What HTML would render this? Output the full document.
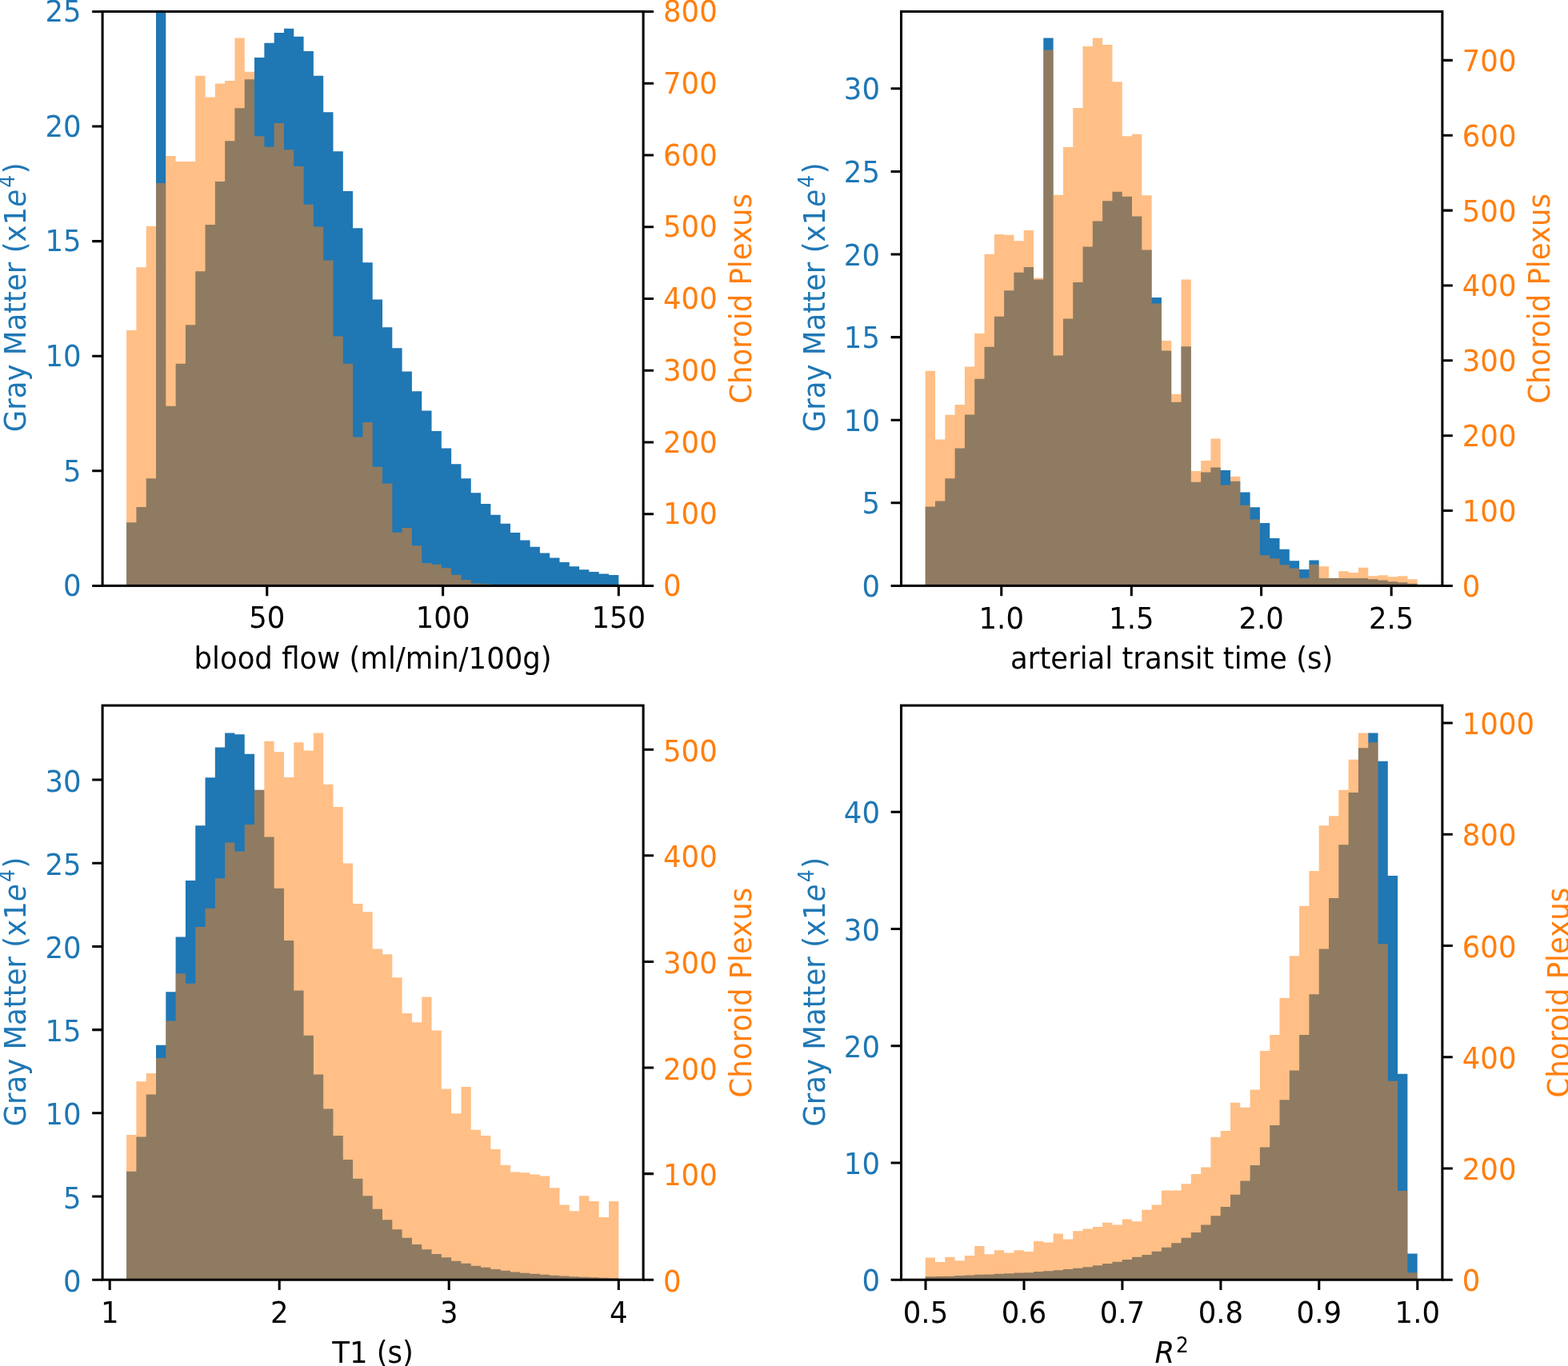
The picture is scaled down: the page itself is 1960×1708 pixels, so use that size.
<!DOCTYPE html>
<html lang="en">
<head>
<meta charset="utf-8">
<title>Histograms: Gray Matter vs Choroid Plexus</title>
<style>
html,body{margin:0;padding:0;background:#fff;}
body{width:1960px;height:1708px;overflow:hidden;}
svg{display:block;}
svg text{font-family:"DejaVu Sans","Liberation Sans",sans-serif;font-size:36.0px;fill:#000;}
svg text.b{fill:#1f77b4;}
svg text.o{fill:#ff7f0e;}
</style>
</head>
<body>
<svg width="1960" height="1708" viewBox="0 0 1960 1708">
<rect width="1960" height="1708" fill="#fff"/>
<g id="p1">
<path d="M158.10 732.40L158.10 653.25L170.40 653.25L170.40 634.00L182.71 634.00L182.71 598.25L195.01 598.25L195.01 14.40L207.32 14.40L207.32 507.75L219.62 507.75L219.62 454.75L231.92 454.75L231.92 406.25L244.23 406.25L244.23 339.25L256.53 339.25L256.53 281.00L268.84 281.00L268.84 227.00L281.14 227.00L281.14 176.25L293.44 176.25L293.44 135.25L305.75 135.25L305.75 99.25L318.05 99.25L318.05 72.00L330.36 72.00L330.36 53.75L342.66 53.75L342.66 41.00L354.96 41.00L354.96 35.75L367.27 35.75L367.27 45.75L379.57 45.75L379.57 64.00L391.88 64.00L391.88 94.75L404.18 94.75L404.18 140.25L416.48 140.25L416.48 189.25L428.79 189.25L428.79 239.00L441.09 239.00L441.09 285.25L453.40 285.25L453.40 328.25L465.70 328.25L465.70 374.50L478.00 374.50L478.00 409.25L490.31 409.25L490.31 435.25L502.61 435.25L502.61 464.50L514.92 464.50L514.92 489.25L527.22 489.25L527.22 513.50L539.52 513.50L539.52 539.00L551.83 539.00L551.83 560.50L564.13 560.50L564.13 580.25L576.44 580.25L576.44 598.25L588.74 598.25L588.74 616.25L601.04 616.25L601.04 630.00L613.35 630.00L613.35 643.75L625.65 643.75L625.65 654.75L637.96 654.75L637.96 666.00L650.26 666.00L650.26 675.50L662.56 675.50L662.56 683.75L674.87 683.75L674.87 691.50L687.17 691.50L687.17 697.50L699.48 697.50L699.48 703.00L711.78 703.00L711.78 708.25L724.08 708.25L724.08 712.25L736.39 712.25L736.39 715.00L748.69 715.00L748.69 717.50L761.00 717.50L761.00 719.00L773.30 719.00L773.30 732.40Z" fill="#1f77b4"/>
<path d="M158.10 732.40L158.10 413.00L170.40 413.00L170.40 334.25L182.71 334.25L182.71 282.75L195.01 282.75L195.01 229.00L207.32 229.00L207.32 195.00L219.62 195.00L219.62 202.00L231.92 202.00L231.92 202.00L244.23 202.00L244.23 94.75L256.53 94.75L256.53 121.50L268.84 121.50L268.84 104.50L281.14 104.50L281.14 101.00L293.44 101.00L293.44 47.50L305.75 47.50L305.75 89.75L318.05 89.75L318.05 170.25L330.36 170.25L330.36 183.75L342.66 183.75L342.66 154.00L354.96 154.00L354.96 187.25L367.27 187.25L367.27 208.00L379.57 208.00L379.57 255.75L391.88 255.75L391.88 283.50L404.18 283.50L404.18 325.50L416.48 325.50L416.48 420.50L428.79 420.50L428.79 454.75L441.09 454.75L441.09 546.50L453.40 546.50L453.40 528.00L465.70 528.00L465.70 583.75L478.00 583.75L478.00 604.50L490.31 604.50L490.31 665.75L502.61 665.75L502.61 660.00L514.92 660.00L514.92 682.25L527.22 682.25L527.22 704.00L539.52 704.00L539.52 705.75L551.83 705.75L551.83 710.25L564.13 710.25L564.13 718.75L576.44 718.75L576.44 725.00L588.74 725.00L588.74 729.50L601.04 729.50L601.04 730.25L613.35 730.25L613.35 732.40Z" fill="#ff7f0e" fill-opacity="0.5"/>
<path d="M333.75 732.40v12.9M553.60 732.40v12.9M773.30 732.40v12.9M128.10 732.40h-12.9M128.10 588.80h-12.9M128.10 445.20h-12.9M128.10 301.60h-12.9M128.10 158.00h-12.9M128.10 14.40h-12.9M804.10 732.40h12.9M804.10 642.65h12.9M804.10 552.90h12.9M804.10 463.15h12.9M804.10 373.40h12.9M804.10 283.65h12.9M804.10 193.90h12.9M804.10 104.15h12.9M804.10 14.40h12.9" stroke="#000" stroke-width="3.05" fill="none"/>
<rect x="128.10" y="14.40" width="676.00" height="718.00" fill="none" stroke="#000" stroke-width="3.05" stroke-linejoin="miter"/>
<text transform="translate(333.75 785.43) scale(0.986 1.03)" text-anchor="middle">50</text>
<text transform="translate(553.60 785.43) scale(0.986 1.03)" text-anchor="middle">100</text>
<text transform="translate(773.30 785.43) scale(0.986 1.03)" text-anchor="middle">150</text>
<text transform="translate(101.60 745.12) scale(0.986 1.03)" text-anchor="end" class="b">0</text>
<text transform="translate(101.60 601.52) scale(0.986 1.03)" text-anchor="end" class="b">5</text>
<text transform="translate(101.60 457.92) scale(0.986 1.03)" text-anchor="end" class="b">10</text>
<text transform="translate(101.60 314.32) scale(0.986 1.03)" text-anchor="end" class="b">15</text>
<text transform="translate(101.60 170.72) scale(0.986 1.03)" text-anchor="end" class="b">20</text>
<text transform="translate(101.60 27.12) scale(0.986 1.03)" text-anchor="end" class="b">25</text>
<text transform="translate(829.00 745.12) scale(0.986 1.03)" text-anchor="start" class="o">0</text>
<text transform="translate(829.00 655.37) scale(0.986 1.03)" text-anchor="start" class="o">100</text>
<text transform="translate(829.00 565.62) scale(0.986 1.03)" text-anchor="start" class="o">200</text>
<text transform="translate(829.00 475.87) scale(0.986 1.03)" text-anchor="start" class="o">300</text>
<text transform="translate(829.00 386.12) scale(0.986 1.03)" text-anchor="start" class="o">400</text>
<text transform="translate(829.00 296.37) scale(0.986 1.03)" text-anchor="start" class="o">500</text>
<text transform="translate(829.00 206.62) scale(0.986 1.03)" text-anchor="start" class="o">600</text>
<text transform="translate(829.00 116.87) scale(0.986 1.03)" text-anchor="start" class="o">700</text>
<text transform="translate(829.00 27.12) scale(0.986 1.03)" text-anchor="start" class="o">800</text>
<text transform="translate(466.10 835.80) scale(0.986 1.03)" text-anchor="middle">blood flow (ml/min/100g)</text>
<text transform="translate(32.00 371.80) rotate(-90) scale(0.986 1.03)" text-anchor="middle" class="b">Gray Matter (x1<tspan font-style="italic">e</tspan><tspan dy="-14.04" font-size="25.20" dx="2.3">4</tspan><tspan dy="14.04" dx="1.8">)</tspan></text>
<text transform="translate(939.00 373.40) rotate(-90) scale(0.986 1.03)" text-anchor="middle" class="o">Choroid Plexus</text>
</g>
<g id="p2">
<path d="M1156.70 732.40L1156.70 633.50L1169.00 633.50L1169.00 626.50L1181.30 626.50L1181.30 598.25L1193.60 598.25L1193.60 560.50L1205.90 560.50L1205.90 518.50L1218.20 518.50L1218.20 473.75L1230.50 473.75L1230.50 433.75L1242.80 433.75L1242.80 395.75L1255.10 395.75L1255.10 363.25L1267.40 363.25L1267.40 340.75L1279.70 340.75L1279.70 334.00L1292.00 334.00L1292.00 349.50L1304.30 349.50L1304.30 47.50L1316.60 47.50L1316.60 444.50L1328.90 444.50L1328.90 398.50L1341.20 398.50L1341.20 353.00L1353.50 353.00L1353.50 308.50L1365.80 308.50L1365.80 276.50L1378.10 276.50L1378.10 251.25L1390.40 251.25L1390.40 239.75L1402.70 239.75L1402.70 245.75L1415.00 245.75L1415.00 270.50L1427.30 270.50L1427.30 312.50L1439.60 312.50L1439.60 372.00L1451.90 372.00L1451.90 438.50L1464.20 438.50L1464.20 502.75L1476.50 502.75L1476.50 433.25L1488.80 433.25L1488.80 602.75L1501.10 602.75L1501.10 590.50L1513.40 590.50L1513.40 584.50L1525.70 584.50L1525.70 588.00L1538.00 588.00L1538.00 601.75L1550.30 601.75L1550.30 615.50L1562.60 615.50L1562.60 634.25L1574.90 634.25L1574.90 654.00L1587.20 654.00L1587.20 673.00L1599.50 673.00L1599.50 686.75L1611.80 686.75L1611.80 701.25L1624.10 701.25L1624.10 712.00L1636.40 712.00L1636.40 700.50L1648.70 700.50L1648.70 723.00L1661.00 723.00L1661.00 723.00L1673.30 723.00L1673.30 723.00L1685.60 723.00L1685.60 723.00L1697.90 723.00L1697.90 723.00L1710.20 723.00L1710.20 724.20L1722.50 724.20L1722.50 725.40L1734.80 725.40L1734.80 727.20L1747.10 727.20L1747.10 728.30L1759.40 728.30L1759.40 729.70L1771.70 729.70L1771.70 732.40Z" fill="#1f77b4"/>
<path d="M1156.70 732.40L1156.70 463.75L1169.00 463.75L1169.00 549.50L1181.30 549.50L1181.30 518.75L1193.60 518.75L1193.60 506.00L1205.90 506.00L1205.90 458.50L1218.20 458.50L1218.20 417.00L1230.50 417.00L1230.50 317.75L1242.80 317.75L1242.80 293.00L1255.10 293.00L1255.10 293.75L1267.40 293.75L1267.40 301.25L1279.70 301.25L1279.70 288.00L1292.00 288.00L1292.00 347.50L1304.30 347.50L1304.30 62.50L1316.60 62.50L1316.60 243.75L1328.90 243.75L1328.90 184.00L1341.20 184.00L1341.20 135.00L1353.50 135.00L1353.50 58.00L1365.80 58.00L1365.80 47.50L1378.10 47.50L1378.10 56.00L1390.40 56.00L1390.40 102.25L1402.70 102.25L1402.70 170.25L1415.00 170.25L1415.00 167.75L1427.30 167.75L1427.30 244.25L1439.60 244.25L1439.60 379.50L1451.90 379.50L1451.90 426.00L1464.20 426.00L1464.20 492.75L1476.50 492.75L1476.50 349.50L1488.80 349.50L1488.80 589.00L1501.10 589.00L1501.10 576.00L1513.40 576.00L1513.40 548.50L1525.70 548.50L1525.70 606.50L1538.00 606.50L1538.00 595.75L1550.30 595.75L1550.30 631.75L1562.60 631.75L1562.60 649.50L1574.90 649.50L1574.90 694.25L1587.20 694.25L1587.20 698.25L1599.50 698.25L1599.50 706.25L1611.80 706.25L1611.80 710.50L1624.10 710.50L1624.10 722.75L1636.40 722.75L1636.40 705.75L1648.70 705.75L1648.70 708.25L1661.00 708.25L1661.00 722.80L1673.30 722.80L1673.30 714.25L1685.60 714.25L1685.60 716.00L1697.90 716.00L1697.90 709.75L1710.20 709.75L1710.20 720.25L1722.50 720.25L1722.50 719.25L1734.80 719.25L1734.80 721.25L1747.10 721.25L1747.10 720.25L1759.40 720.25L1759.40 724.25L1771.70 724.25L1771.70 732.40Z" fill="#ff7f0e" fill-opacity="0.5"/>
<path d="M1251.75 732.40v12.9M1414.30 732.40v12.9M1576.60 732.40v12.9M1739.20 732.40v12.9M1126.50 732.40h-12.9M1126.50 628.80h-12.9M1126.50 525.20h-12.9M1126.50 421.60h-12.9M1126.50 318.00h-12.9M1126.50 214.40h-12.9M1126.50 110.80h-12.9M1802.90 732.40h12.9M1802.90 638.54h12.9M1802.90 544.68h12.9M1802.90 450.82h12.9M1802.90 356.96h12.9M1802.90 263.10h12.9M1802.90 169.24h12.9M1802.90 75.38h12.9" stroke="#000" stroke-width="3.05" fill="none"/>
<rect x="1126.50" y="14.40" width="676.40" height="718.00" fill="none" stroke="#000" stroke-width="3.05" stroke-linejoin="miter"/>
<text transform="translate(1251.75 786.33) scale(0.986 1.03)" text-anchor="middle">1.0</text>
<text transform="translate(1414.30 786.33) scale(0.986 1.03)" text-anchor="middle">1.5</text>
<text transform="translate(1576.60 786.33) scale(0.986 1.03)" text-anchor="middle">2.0</text>
<text transform="translate(1739.20 786.33) scale(0.986 1.03)" text-anchor="middle">2.5</text>
<text transform="translate(1100.00 745.92) scale(0.986 1.03)" text-anchor="end" class="b">0</text>
<text transform="translate(1100.00 642.32) scale(0.986 1.03)" text-anchor="end" class="b">5</text>
<text transform="translate(1100.00 538.72) scale(0.986 1.03)" text-anchor="end" class="b">10</text>
<text transform="translate(1100.00 435.12) scale(0.986 1.03)" text-anchor="end" class="b">15</text>
<text transform="translate(1100.00 331.52) scale(0.986 1.03)" text-anchor="end" class="b">20</text>
<text transform="translate(1100.00 227.92) scale(0.986 1.03)" text-anchor="end" class="b">25</text>
<text transform="translate(1100.00 124.32) scale(0.986 1.03)" text-anchor="end" class="b">30</text>
<text transform="translate(1827.80 745.92) scale(0.986 1.03)" text-anchor="start" class="o">0</text>
<text transform="translate(1827.80 652.06) scale(0.986 1.03)" text-anchor="start" class="o">100</text>
<text transform="translate(1827.80 558.20) scale(0.986 1.03)" text-anchor="start" class="o">200</text>
<text transform="translate(1827.80 464.34) scale(0.986 1.03)" text-anchor="start" class="o">300</text>
<text transform="translate(1827.80 370.48) scale(0.986 1.03)" text-anchor="start" class="o">400</text>
<text transform="translate(1827.80 276.62) scale(0.986 1.03)" text-anchor="start" class="o">500</text>
<text transform="translate(1827.80 182.76) scale(0.986 1.03)" text-anchor="start" class="o">600</text>
<text transform="translate(1827.80 88.90) scale(0.986 1.03)" text-anchor="start" class="o">700</text>
<text transform="translate(1464.70 835.80) scale(0.986 1.03)" text-anchor="middle">arterial transit time (s)</text>
<text transform="translate(1031.00 371.80) rotate(-90) scale(0.986 1.03)" text-anchor="middle" class="b">Gray Matter (x1<tspan font-style="italic">e</tspan><tspan dy="-14.04" font-size="25.20" dx="2.3">4</tspan><tspan dy="14.04" dx="1.8">)</tspan></text>
<text transform="translate(1937.00 373.40) rotate(-90) scale(0.986 1.03)" text-anchor="middle" class="o">Choroid Plexus</text>
</g>
<g id="p3">
<path d="M158.10 1600.20L158.10 1464.75L170.40 1464.75L170.40 1421.50L182.71 1421.50L182.71 1368.50L195.01 1368.50L195.01 1306.75L207.32 1306.75L207.32 1240.25L219.62 1240.25L219.62 1171.50L231.92 1171.50L231.92 1101.00L244.23 1101.00L244.23 1032.25L256.53 1032.25L256.53 972.25L268.84 972.25L268.84 934.50L281.14 934.50L281.14 916.50L293.44 916.50L293.44 918.25L305.75 918.25L305.75 942.75L318.05 942.75L318.05 987.75L330.36 987.75L330.36 1046.50L342.66 1046.50L342.66 1110.75L354.96 1110.75L354.96 1176.00L367.27 1176.00L367.27 1238.50L379.57 1238.50L379.57 1294.75L391.88 1294.75L391.88 1343.50L404.18 1343.50L404.18 1386.50L416.48 1386.50L416.48 1420.00L428.79 1420.00L428.79 1450.00L441.09 1450.00L441.09 1473.75L453.40 1473.75L453.40 1495.25L465.70 1495.25L465.70 1511.75L478.00 1511.75L478.00 1525.25L490.31 1525.25L490.31 1537.25L502.61 1537.25L502.61 1547.75L514.92 1547.75L514.92 1556.00L527.22 1556.00L527.22 1562.25L539.52 1562.25L539.52 1568.00L551.83 1568.00L551.83 1572.25L564.13 1572.25L564.13 1576.75L576.44 1576.75L576.44 1579.75L588.74 1579.75L588.74 1582.75L601.04 1582.75L601.04 1584.75L613.35 1584.75L613.35 1587.00L625.65 1587.00L625.65 1588.75L637.96 1588.75L637.96 1590.50L650.26 1590.50L650.26 1591.75L662.56 1591.75L662.56 1592.75L674.87 1592.75L674.87 1593.75L687.17 1593.75L687.17 1594.75L699.48 1594.75L699.48 1595.50L711.78 1595.50L711.78 1596.25L724.08 1596.25L724.08 1596.75L736.39 1596.75L736.39 1597.25L748.69 1597.25L748.69 1597.75L761.00 1597.75L761.00 1598.25L773.30 1598.25L773.30 1600.20Z" fill="#1f77b4"/>
<path d="M158.10 1600.20L158.10 1419.00L170.40 1419.00L170.40 1352.25L182.71 1352.25L182.71 1342.00L195.01 1342.00L195.01 1323.00L207.32 1323.00L207.32 1276.50L219.62 1276.50L219.62 1217.25L231.92 1217.25L231.92 1229.75L244.23 1229.75L244.23 1159.00L256.53 1159.00L256.53 1135.75L268.84 1135.75L268.84 1098.25L281.14 1098.25L281.14 1053.50L293.44 1053.50L293.44 1064.50L305.75 1064.50L305.75 1031.00L318.05 1031.00L318.05 987.75L330.36 987.75L330.36 926.75L342.66 926.75L342.66 940.25L354.96 940.25L354.96 972.00L367.27 972.00L367.27 928.25L379.57 928.25L379.57 938.50L391.88 938.50L391.88 916.50L404.18 916.50L404.18 980.75L416.48 980.75L416.48 1009.00L428.79 1009.00L428.79 1079.50L441.09 1079.50L441.09 1130.00L453.40 1130.00L453.40 1140.25L465.70 1140.25L465.70 1186.50L478.00 1186.50L478.00 1193.25L490.31 1193.25L490.31 1222.25L502.61 1222.25L502.61 1267.00L514.92 1267.00L514.92 1278.25L527.22 1278.25L527.22 1246.50L539.52 1246.50L539.52 1288.50L551.83 1288.50L551.83 1361.50L564.13 1361.50L564.13 1392.25L576.44 1392.25L576.44 1359.00L588.74 1359.00L588.74 1412.75L601.04 1412.75L601.04 1420.00L613.35 1420.00L613.35 1437.00L625.65 1437.00L625.65 1456.75L637.96 1456.75L637.96 1465.50L650.26 1465.50L650.26 1466.25L662.56 1466.25L662.56 1468.50L674.87 1468.50L674.87 1470.50L687.17 1470.50L687.17 1485.25L699.48 1485.25L699.48 1506.50L711.78 1506.50L711.78 1514.25L724.08 1514.25L724.08 1495.25L736.39 1495.25L736.39 1502.00L748.69 1502.00L748.69 1522.00L761.00 1522.00L761.00 1502.00L773.30 1502.00L773.30 1600.20Z" fill="#ff7f0e" fill-opacity="0.5"/>
<path d="M137.20 1600.20v12.9M349.20 1600.20v12.9M561.20 1600.20v12.9M773.30 1600.20v12.9M128.10 1600.20h-12.9M128.10 1496.00h-12.9M128.10 1391.80h-12.9M128.10 1287.60h-12.9M128.10 1183.40h-12.9M128.10 1079.20h-12.9M128.10 975.00h-12.9M804.10 1600.20h12.9M804.10 1467.60h12.9M804.10 1335.00h12.9M804.10 1202.40h12.9M804.10 1069.80h12.9M804.10 937.20h12.9" stroke="#000" stroke-width="3.05" fill="none"/>
<rect x="128.10" y="882.10" width="676.00" height="718.10" fill="none" stroke="#000" stroke-width="3.05" stroke-linejoin="miter"/>
<text transform="translate(137.20 1654.13) scale(0.986 1.03)" text-anchor="middle">1</text>
<text transform="translate(349.20 1654.13) scale(0.986 1.03)" text-anchor="middle">2</text>
<text transform="translate(561.20 1654.13) scale(0.986 1.03)" text-anchor="middle">3</text>
<text transform="translate(773.30 1654.13) scale(0.986 1.03)" text-anchor="middle">4</text>
<text transform="translate(101.60 1614.72) scale(0.986 1.03)" text-anchor="end" class="b">0</text>
<text transform="translate(101.60 1510.52) scale(0.986 1.03)" text-anchor="end" class="b">5</text>
<text transform="translate(101.60 1406.32) scale(0.986 1.03)" text-anchor="end" class="b">10</text>
<text transform="translate(101.60 1302.12) scale(0.986 1.03)" text-anchor="end" class="b">15</text>
<text transform="translate(101.60 1197.92) scale(0.986 1.03)" text-anchor="end" class="b">20</text>
<text transform="translate(101.60 1093.72) scale(0.986 1.03)" text-anchor="end" class="b">25</text>
<text transform="translate(101.60 989.52) scale(0.986 1.03)" text-anchor="end" class="b">30</text>
<text transform="translate(829.00 1614.72) scale(0.986 1.03)" text-anchor="start" class="o">0</text>
<text transform="translate(829.00 1482.12) scale(0.986 1.03)" text-anchor="start" class="o">100</text>
<text transform="translate(829.00 1349.52) scale(0.986 1.03)" text-anchor="start" class="o">200</text>
<text transform="translate(829.00 1216.92) scale(0.986 1.03)" text-anchor="start" class="o">300</text>
<text transform="translate(829.00 1084.32) scale(0.986 1.03)" text-anchor="start" class="o">400</text>
<text transform="translate(829.00 951.72) scale(0.986 1.03)" text-anchor="start" class="o">500</text>
<text transform="translate(466.10 1703.60) scale(0.986 1.03)" text-anchor="middle">T1 (s)</text>
<text transform="translate(32.00 1240.15) rotate(-90) scale(0.986 1.03)" text-anchor="middle" class="b">Gray Matter (x1<tspan font-style="italic">e</tspan><tspan dy="-14.04" font-size="25.20" dx="2.3">4</tspan><tspan dy="14.04" dx="1.8">)</tspan></text>
<text transform="translate(939.00 1241.15) rotate(-90) scale(0.986 1.03)" text-anchor="middle" class="o">Choroid Plexus</text>
</g>
<g id="p4">
<path d="M1156.70 1600.20L1156.70 1596.25L1169.00 1596.25L1169.00 1596.00L1181.30 1596.00L1181.30 1595.75L1193.60 1595.75L1193.60 1595.00L1205.90 1595.00L1205.90 1594.50L1218.20 1594.50L1218.20 1593.75L1230.50 1593.75L1230.50 1593.50L1242.80 1593.50L1242.80 1592.75L1255.10 1592.75L1255.10 1592.25L1267.40 1592.25L1267.40 1591.50L1279.70 1591.50L1279.70 1591.25L1292.00 1591.25L1292.00 1590.00L1304.30 1590.00L1304.30 1589.25L1316.60 1589.25L1316.60 1588.25L1328.90 1588.25L1328.90 1587.00L1341.20 1587.00L1341.20 1585.75L1353.50 1585.75L1353.50 1584.25L1365.80 1584.25L1365.80 1582.25L1378.10 1582.25L1378.10 1580.00L1390.40 1580.00L1390.40 1577.75L1402.70 1577.75L1402.70 1575.00L1415.00 1575.00L1415.00 1571.75L1427.30 1571.75L1427.30 1569.00L1439.60 1569.00L1439.60 1564.75L1451.90 1564.75L1451.90 1559.75L1464.20 1559.75L1464.20 1554.25L1476.50 1554.25L1476.50 1547.75L1488.80 1547.75L1488.80 1541.00L1501.10 1541.00L1501.10 1531.50L1513.40 1531.50L1513.40 1520.25L1525.70 1520.25L1525.70 1509.00L1538.00 1509.00L1538.00 1493.75L1550.30 1493.75L1550.30 1476.50L1562.60 1476.50L1562.60 1457.00L1574.90 1457.00L1574.90 1434.50L1587.20 1434.50L1587.20 1407.00L1599.50 1407.00L1599.50 1375.25L1611.80 1375.25L1611.80 1338.50L1624.10 1338.50L1624.10 1294.00L1636.40 1294.00L1636.40 1243.25L1648.70 1243.25L1648.70 1186.50L1661.00 1186.50L1661.00 1123.00L1673.30 1123.00L1673.30 1056.25L1685.60 1056.25L1685.60 991.00L1697.90 991.00L1697.90 935.25L1710.20 935.25L1710.20 916.50L1722.50 916.50L1722.50 951.75L1734.80 951.75L1734.80 1095.00L1747.10 1095.00L1747.10 1342.75L1759.40 1342.75L1759.40 1567.50L1771.70 1567.50L1771.70 1600.20Z" fill="#1f77b4"/>
<path d="M1156.70 1600.20L1156.70 1572.50L1169.00 1572.50L1169.00 1578.00L1181.30 1578.00L1181.30 1571.75L1193.60 1571.75L1193.60 1576.25L1205.90 1576.25L1205.90 1570.00L1218.20 1570.00L1218.20 1558.00L1230.50 1558.00L1230.50 1568.25L1242.80 1568.25L1242.80 1563.25L1255.10 1563.25L1255.10 1566.50L1267.40 1566.50L1267.40 1563.25L1279.70 1563.25L1279.70 1565.00L1292.00 1565.00L1292.00 1552.00L1304.30 1552.00L1304.30 1553.50L1316.60 1553.50L1316.60 1542.50L1328.90 1542.50L1328.90 1549.50L1341.20 1549.50L1341.20 1539.25L1353.50 1539.25L1353.50 1536.50L1365.80 1536.50L1365.80 1534.00L1378.10 1534.00L1378.10 1528.75L1390.40 1528.75L1390.40 1531.50L1402.70 1531.50L1402.70 1524.50L1415.00 1524.50L1415.00 1527.25L1427.30 1527.25L1427.30 1512.75L1439.60 1512.75L1439.60 1506.50L1451.90 1506.50L1451.90 1488.50L1464.20 1488.50L1464.20 1488.50L1476.50 1488.50L1476.50 1480.25L1488.80 1480.25L1488.80 1468.00L1501.10 1468.00L1501.10 1459.50L1513.40 1459.50L1513.40 1421.75L1525.70 1421.75L1525.70 1414.00L1538.00 1414.00L1538.00 1378.75L1550.30 1378.75L1550.30 1384.75L1562.60 1384.75L1562.60 1362.50L1574.90 1362.50L1574.90 1314.00L1587.20 1314.00L1587.20 1294.00L1599.50 1294.00L1599.50 1247.75L1611.80 1247.75L1611.80 1195.25L1624.10 1195.25L1624.10 1132.75L1636.40 1132.75L1636.40 1089.00L1648.70 1089.00L1648.70 1032.25L1661.00 1032.25L1661.00 1020.25L1673.30 1020.25L1673.30 987.75L1685.60 987.75L1685.60 949.75L1697.90 949.75L1697.90 916.50L1710.20 916.50L1710.20 928.25L1722.50 928.25L1722.50 1180.25L1734.80 1180.25L1734.80 1351.75L1747.10 1351.75L1747.10 1489.00L1759.40 1489.00L1759.40 1591.25L1771.70 1591.25L1771.70 1600.20Z" fill="#ff7f0e" fill-opacity="0.5"/>
<path d="M1157.00 1600.20v12.9M1280.00 1600.20v12.9M1402.90 1600.20v12.9M1525.90 1600.20v12.9M1648.80 1600.20v12.9M1771.80 1600.20v12.9M1126.50 1600.20h-12.9M1126.50 1453.95h-12.9M1126.50 1307.70h-12.9M1126.50 1161.45h-12.9M1126.50 1015.20h-12.9M1802.90 1600.20h12.9M1802.90 1460.95h12.9M1802.90 1321.70h12.9M1802.90 1182.45h12.9M1802.90 1043.20h12.9M1802.90 903.95h12.9" stroke="#000" stroke-width="3.05" fill="none"/>
<rect x="1126.50" y="882.10" width="676.40" height="718.10" fill="none" stroke="#000" stroke-width="3.05" stroke-linejoin="miter"/>
<text transform="translate(1157.00 1653.63) scale(0.986 1.03)" text-anchor="middle">0.5</text>
<text transform="translate(1280.00 1653.63) scale(0.986 1.03)" text-anchor="middle">0.6</text>
<text transform="translate(1402.90 1653.63) scale(0.986 1.03)" text-anchor="middle">0.7</text>
<text transform="translate(1525.90 1653.63) scale(0.986 1.03)" text-anchor="middle">0.8</text>
<text transform="translate(1648.80 1653.63) scale(0.986 1.03)" text-anchor="middle">0.9</text>
<text transform="translate(1771.80 1653.63) scale(0.986 1.03)" text-anchor="middle">1.0</text>
<text transform="translate(1100.00 1614.32) scale(0.986 1.03)" text-anchor="end" class="b">0</text>
<text transform="translate(1100.00 1468.07) scale(0.986 1.03)" text-anchor="end" class="b">10</text>
<text transform="translate(1100.00 1321.82) scale(0.986 1.03)" text-anchor="end" class="b">20</text>
<text transform="translate(1100.00 1175.57) scale(0.986 1.03)" text-anchor="end" class="b">30</text>
<text transform="translate(1100.00 1029.32) scale(0.986 1.03)" text-anchor="end" class="b">40</text>
<text transform="translate(1827.80 1614.32) scale(0.986 1.03)" text-anchor="start" class="o">0</text>
<text transform="translate(1827.80 1475.07) scale(0.986 1.03)" text-anchor="start" class="o">200</text>
<text transform="translate(1827.80 1335.82) scale(0.986 1.03)" text-anchor="start" class="o">400</text>
<text transform="translate(1827.80 1196.57) scale(0.986 1.03)" text-anchor="start" class="o">600</text>
<text transform="translate(1827.80 1057.32) scale(0.986 1.03)" text-anchor="start" class="o">800</text>
<text transform="translate(1827.80 918.07) scale(0.986 1.03)" text-anchor="start" class="o">1000</text>
<text transform="translate(1464.70 1703.60) scale(0.986 1.03)" text-anchor="middle"><tspan font-style="italic">R</tspan><tspan dy="-11.88" font-size="25.20" dx="2">2</tspan></text>
<text transform="translate(1031.00 1240.35) rotate(-90) scale(0.986 1.03)" text-anchor="middle" class="b">Gray Matter (x1<tspan font-style="italic">e</tspan><tspan dy="-14.04" font-size="25.20" dx="2.3">4</tspan><tspan dy="14.04" dx="1.8">)</tspan></text>
<text transform="translate(1961.40 1241.15) rotate(-90) scale(0.986 1.03)" text-anchor="middle" class="o">Choroid Plexus</text>
</g>
</svg>
</body>
</html>
